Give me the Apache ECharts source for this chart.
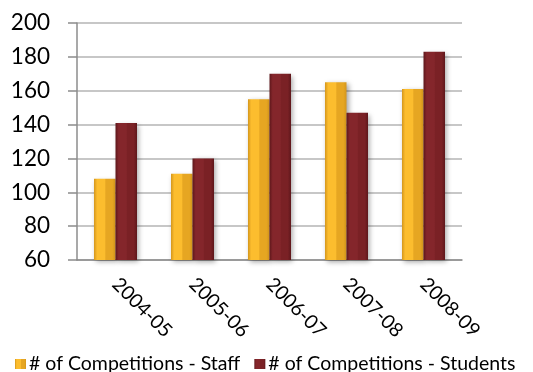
<!DOCTYPE html>
<html>
<head>
<meta charset="utf-8">
<script src="https://cdn.jsdelivr.net/npm/echarts@6/dist/echarts.min.js"></script>
<style>html,body{margin:0;padding:0;background:#fff}#c{width:533px;height:372px}</style>
</head>
<body>
<div id="c"></div>
<script>
var categories = ['2004-05', '2005-06', '2006-07', '2007-08', '2008-09'];
var staffValues = [108, 111, 155, 165, 161];
var studentValues = [141, 120, 170, 147, 183];
var seriesNames = ['# of Competitions - Staff', '# of Competitions - Students'];
var yTicks = {min: 60, max: 200, interval: 20};

var FONT = 'Lato';
var chart = echarts.init(document.getElementById('c'));
function grad(edge, mid, edge2) {
  return new echarts.graphic.LinearGradient(0, 0, 1, 0, [
    {offset: 0, color: edge}, {offset: 0.15, color: mid}, {offset: 0.5, color: mid},
    {offset: 0.55, color: edge2}, {offset: 0.85, color: edge2}, {offset: 1, color: edge}
  ]);
}
chart.setOption({
  animation: false,
  grid: {left: 77, right: 71, top: 23, bottom: 112},
  legend: {
    left: 15, top: 354, padding: 0, itemWidth: 11, itemHeight: 10, itemGap: 14,
    icon: 'rect',
    textStyle: {fontFamily: FONT, fontSize: 19.5, color: '#000', padding: [0, 0, 0, -2]},
    data: seriesNames
  },
  xAxis: {
    type: 'category', data: categories,
    axisLine: {lineStyle: {color: '#8c8c8c', width: 1.5}},
    axisTick: {show: false},
    axisLabel: {rotate: -45, fontFamily: FONT, fontSize: 19.5, color: '#000', margin: 21, align: 'left'}
  },
  yAxis: {
    type: 'value', min: yTicks.min, max: yTicks.max, interval: yTicks.interval,
    axisLine: {show: true, lineStyle: {color: '#8c8c8c', width: 1.5}},
    axisTick: {show: true, length: 9, lineStyle: {color: '#8c8c8c', width: 1.5}},
    splitLine: {lineStyle: {color: '#b4b4b4', width: 1.5}},
    axisLabel: {fontFamily: FONT, fontSize: 22.5, color: '#000', margin: 27}
  },
  series: [
    {
      name: seriesNames[0], type: 'bar', data: staffValues, barWidth: 21.5, barGap: '0%',
      itemStyle: {color: grad('#d4961c', '#fcbd2e', '#e6a622'), shadowColor: 'rgba(0,0,0,0.35)', shadowBlur: 5, shadowOffsetX: 2, shadowOffsetY: 2}
    },
    {
      name: seriesNames[1], type: 'bar', data: studentValues, barWidth: 21.5,
      itemStyle: {color: grad('#5e171b', '#84262b', '#7a2125'), shadowColor: 'rgba(0,0,0,0.35)', shadowBlur: 5, shadowOffsetX: 2, shadowOffsetY: 2}
    }
  ]
});
</script>
</body>
</html>
